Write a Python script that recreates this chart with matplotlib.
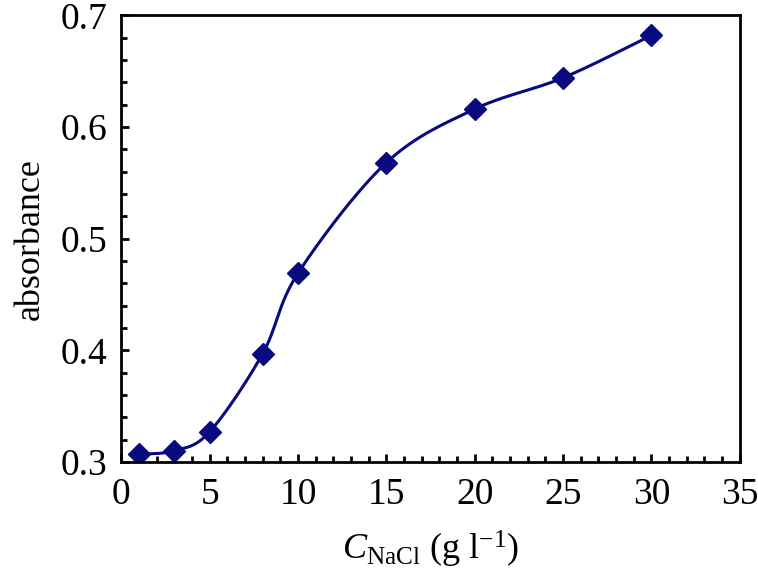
import numpy as np
import matplotlib
matplotlib.use("Agg")
import matplotlib.pyplot as plt
from matplotlib.ticker import MultipleLocator

plt.rcParams['font.family'] = ['Liberation Serif', 'DejaVu Serif']
plt.rcParams['mathtext.fontset'] = 'custom'
plt.rcParams['mathtext.rm'] = 'Liberation Serif'
plt.rcParams['mathtext.it'] = 'Liberation Serif:italic'

# data
nacl = [1, 3, 5, 8, 10, 15, 20, 25, 30]
absorbance = [0.307, 0.310, 0.327, 0.397, 0.469, 0.568, 0.616, 0.644, 0.682]

navy = '#0a0a80'


# smooth line through the points (Catmull-Rom, like a spreadsheet "smoothed line")
def smooth(xs, ys, n=30):
    p = np.column_stack([xs, ys]).astype(float)
    p = np.vstack([p[0], p, p[-1]])
    out = []
    t = np.linspace(0, 1, n)
    for i in range(1, len(p) - 2):
        p0, p1, p2, p3 = p[i - 1], p[i], p[i + 1], p[i + 2]
        tt = t[:, None]
        seg = 0.5 * ((2 * p1) + (-p0 + p2) * tt
                     + (2 * p0 - 5 * p1 + 4 * p2 - p3) * tt ** 2
                     + (-p0 + 3 * p1 - 3 * p2 + p3) * tt ** 3)
        out.append(seg)
    out = np.vstack(out)
    return out[:, 0], out[:, 1]


fig = plt.figure(figsize=(7.58, 5.87), dpi=100)
ax = fig.add_axes([0.16, 0.213, 0.816, 0.761])

sx, sy = smooth(nacl, absorbance)
ax.plot(sx, sy, color=navy, lw=2.2)
ax.plot(nacl, absorbance, linestyle='none', marker='D', markersize=11,
        color=navy)

ax.set_xlim(0, 35)
ax.set_ylim(0.3, 0.7)
ax.xaxis.set_major_locator(MultipleLocator(5))
ax.xaxis.set_minor_locator(MultipleLocator(1))
ax.yaxis.set_major_locator(MultipleLocator(0.1))
ax.yaxis.set_minor_locator(MultipleLocator(0.02))
ax.yaxis.set_major_formatter(plt.FormatStrFormatter('%.1f'))

ax.tick_params(which='both', direction='in', width=2, labelsize=27,
               top=False, right=False)
ax.tick_params(which='major', length=6)
ax.tick_params(which='minor', length=4)
ax.tick_params(axis='x', which='major', pad=11)
ax.tick_params(axis='y', which='major', pad=10)
for s in ax.spines.values():
    s.set_linewidth(2)

ax.set_ylabel('absorbance', fontsize=26, labelpad=10)
ax.set_xlabel(r'$C_{\mathrm{NaCl}}$ (g l$^{-1}$)', fontsize=26, labelpad=12)

fig.savefig('out.png', dpi=100)
